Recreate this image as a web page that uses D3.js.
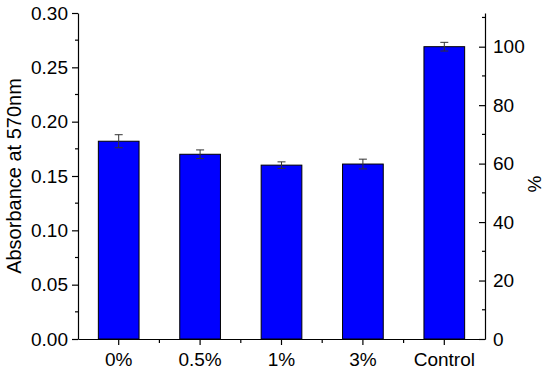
<!DOCTYPE html>
<html>
<head>
<meta charset="utf-8">
<script src="https://cdn.jsdelivr.net/npm/d3@7"></script>
<style>
  body { margin: 0; background: #fff; }
  svg text { font-family: Arial, "Liberation Sans", sans-serif; fill: #000; }
  .axis path, .axis line { stroke: #000; stroke-width: 1.2; }
</style>
</head>
<body>
<svg id="chart" width="550" height="370"></svg>
<script>
const width = 550;
const height = 370;

// Data
const groups = ["0%", "0.5%", "1%", "3%", "Control"];
const absorbance = [0.182, 0.170, 0.160, 0.161, 0.269];
const errors = [0.006, 0.004, 0.003, 0.0045, 0.004];
const leftTicks = [0, 0.05, 0.1, 0.15, 0.2, 0.25, 0.3];
const rightTicks = [0, 20, 40, 60, 80, 100];

const margin = { top: 13, right: 65, bottom: 31, left: 78 };
const svg = d3.select("#chart");

const x = d3
  .scaleBand()
  .domain(groups)
  .range([margin.left, width - margin.right])
  .paddingInner(0.5)
  .paddingOuter(0.25);

const y = d3
  .scaleLinear()
  .domain([0, 0.3])
  .range([height - margin.bottom, margin.top]);

// right axis: control = 100 %
const control = absorbance[absorbance.length - 1];
const yPct = d3
  .scaleLinear()
  .domain([0, (0.3 / control) * 100])
  .range([height - margin.bottom, margin.top]);

const bottom = height - margin.bottom;
const right = width - margin.right;

// Bars
svg
  .selectAll("rect.bar")
  .data(absorbance)
  .enter()
  .append("rect")
  .attr("class", "bar")
  .attr("x", (d, i) => x(groups[i]))
  .attr("y", (d) => y(d))
  .attr("width", x.bandwidth())
  .attr("height", (d) => bottom - y(d))
  .attr("fill", "#0000ff")
  .attr("stroke", "#000")
  .attr("stroke-width", 1);

// Error bars
const err = svg.append("g").attr("stroke", "#333").attr("stroke-width", 1);
absorbance.forEach((d, i) => {
  const cx = x(groups[i]) + x.bandwidth() / 2;
  err.append("line").attr("x1", cx).attr("x2", cx).attr("y1", y(d + errors[i])).attr("y2", y(d - errors[i]));
  err.append("line").attr("x1", cx - 4).attr("x2", cx + 4).attr("y1", y(d + errors[i])).attr("y2", y(d + errors[i]));
  err.append("line").attr("x1", cx - 4).attr("x2", cx + 4).attr("y1", y(d - errors[i])).attr("y2", y(d - errors[i]));
});

// Left axis
const leftAxis = svg
  .append("g")
  .attr("class", "axis")
  .attr("transform", "translate(" + margin.left + ",0)")
  .call(d3.axisLeft(y).tickValues(leftTicks).tickFormat(d3.format(".2f")).tickSize(6).tickSizeOuter(0).tickPadding(4));
leftAxis.selectAll("text").style("font-size", "19px");
leftAxis
  .selectAll("line.minor")
  .data(d3.range(0.025, 0.3, 0.05))
  .enter()
  .append("line")
  .attr("class", "minor")
  .attr("x1", -3)
  .attr("x2", 0)
  .attr("y1", (d) => y(d))
  .attr("y2", (d) => y(d));

// Right axis (ticks pointing inward)
const rightAxis = svg
  .append("g")
  .attr("class", "axis")
  .attr("transform", "translate(" + right + ",0)")
  .call(d3.axisRight(yPct).tickValues(rightTicks).tickSize(-6).tickSizeOuter(0).tickPadding(8));
rightAxis.selectAll("text").style("font-size", "19px").attr("x", 8);
rightAxis
  .selectAll("line.minor")
  .data(d3.range(10, 111, 20))
  .enter()
  .append("line")
  .attr("class", "minor")
  .attr("x1", -3)
  .attr("x2", 0)
  .attr("y1", (d) => yPct(d))
  .attr("y2", (d) => yPct(d));

// Bottom axis
const bottomAxis = svg
  .append("g")
  .attr("class", "axis")
  .attr("transform", "translate(0," + bottom + ")")
  .call(d3.axisBottom(x).tickSize(6).tickSizeOuter(0).tickPadding(8));
bottomAxis.selectAll("text").style("font-size", "19px");
bottomAxis
  .selectAll("line.minor")
  .data(groups.slice(1))
  .enter()
  .append("line")
  .attr("class", "minor")
  .attr("x1", (d) => x(d) - (x.step() * x.paddingInner()) / 2)
  .attr("x2", (d) => x(d) - (x.step() * x.paddingInner()) / 2)
  .attr("y1", 0)
  .attr("y2", 4);

// Axis titles
svg
  .append("text")
  .attr("transform", "translate(21," + (margin.top + bottom) / 2 + ") rotate(-90)")
  .attr("text-anchor", "middle")
  .style("font-size", "20px")
  .text("Absorbance at 570nm");

svg
  .append("text")
  .attr("transform", "translate(541," + ((margin.top + bottom) / 2 + 8) + ") rotate(-90)")
  .attr("text-anchor", "middle")
  .style("font-size", "19px")
  .text("%");
</script>
</body>
</html>
